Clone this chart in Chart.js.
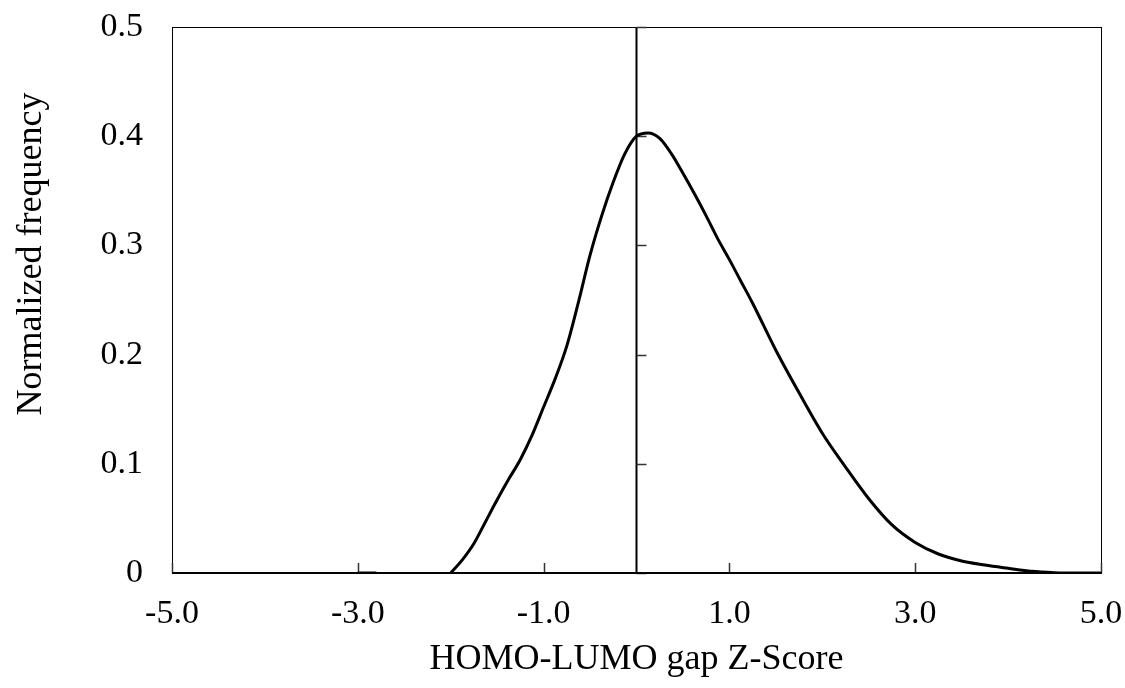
<!DOCTYPE html>
<html>
<head>
<meta charset="utf-8">
<script src="https://cdn.jsdelivr.net/npm/chart.js@4.4.0/dist/chart.umd.min.js"></script>
<style>
    html, body { margin: 0; padding: 0; background: #fff; }
    #wrap { width: 1125px; height: 688px; }
</style>
</head>
<body>
<div id="wrap"><canvas id="zscore-chart"></canvas></div>
<script>
// Distribuição normalizada do Z-score do gap HOMO-LUMO
const zScores = [-3.0, -2.8, -2.4, -2.0, -1.875, -1.75, -1.625, -1.5, -1.375, -1.25, -1.125, -1.0, -0.875, -0.75,
    -0.625, -0.5, -0.375, -0.25, -0.125, 0.0, 0.125, 0.25, 0.375, 0.5, 0.625, 0.75, 0.875, 1.0, 1.125, 1.25,
    1.5, 1.75, 2.0, 2.25, 2.5, 2.75, 3.0, 3.25, 3.5, 3.75, 4.0, 4.25, 4.5, 4.75, 5.0];
const frequencies = [0, 0, null, 0, 0.012, 0.027, 0.047, 0.067, 0.086, 0.104, 0.126, 0.152, 0.178, 0.208,
    0.248, 0.291, 0.327, 0.358, 0.384, 0.400, 0.403, 0.398, 0.384, 0.366, 0.347, 0.327, 0.306, 0.287, 0.267, 0.247,
    0.204, 0.165, 0.128, 0.097, 0.068, 0.044, 0.028, 0.0174, 0.011, 0.0073, 0.0043, 0.0015, 0.0003, 0, 0];

const xTickValues = [-5, -3, -1, 1, 3, 5];
const yTickValues = [0, 0.1, 0.2, 0.3, 0.4, 0.5];
const xTitle = 'HOMO-LUMO gap Z-Score';
const yTitle = 'Normalized frequency';

const FONT = '"Liberation Serif", "Times New Roman", serif';

// moldura, eixo vertical em x=0, marcas de escala e títulos dos eixos
const framePlugin = {
    id: 'frame',
    beforeDatasetsDraw(chart) {
        const { ctx, chartArea: a, scales } = chart;
        const x0 = scales.x.getPixelForValue(0);
        ctx.save();
        ctx.strokeStyle = '#000';
        ctx.lineWidth = 1;
        ctx.strokeRect(a.left + 0.5, a.top + 0.5, a.right - a.left, a.bottom - a.top);

        // linha vertical em z = 0
        ctx.lineWidth = 2;
        ctx.beginPath();
        ctx.moveTo(x0, a.top);
        ctx.lineTo(x0, a.bottom);
        ctx.stroke();

        // marcas do eixo y (para a direita)
        ctx.lineWidth = 1.5;
        ctx.strokeStyle = '#333';
        yTickValues.forEach(v => {
            const y = Math.round(scales.y.getPixelForValue(v)) + 0.5;
            ctx.beginPath();
            ctx.moveTo(x0, y);
            ctx.lineTo(x0 + 10, y);
            ctx.stroke();
        });

        // marcas do eixo x (para cima)
        xTickValues.forEach(v => {
            const x = Math.round(scales.x.getPixelForValue(v)) + 0.5;
            ctx.beginPath();
            ctx.moveTo(x, a.bottom);
            ctx.lineTo(x, a.bottom - 10);
            ctx.stroke();
        });

        // eixo x mais grosso
        ctx.strokeStyle = '#000';
        ctx.lineWidth = 2;
        ctx.beginPath();
        ctx.moveTo(a.left, a.bottom);
        ctx.lineTo(a.right + 1, a.bottom);
        ctx.stroke();
        ctx.restore();
    },
    afterDraw(chart) {
        const { ctx, chartArea: a } = chart;
        ctx.save();
        ctx.fillStyle = '#000';
        ctx.font = '36px ' + FONT;
        ctx.textAlign = 'center';
        ctx.textBaseline = 'middle';
        ctx.fillText(xTitle, (a.left + a.right) / 2, 660);
        ctx.translate(32, 254);
        ctx.rotate(-Math.PI / 2);
        ctx.fillText(yTitle, 0, 0);
        ctx.restore();
    }
};

// sem folga extra para os rótulos nas bordas
function noOverflow(scale) {
    scale.paddingTop = 0;
    scale.paddingBottom = 0;
    scale.paddingLeft = 0;
    scale.paddingRight = 0;
}

const ctx = document.getElementById('zscore-chart').getContext('2d');
new Chart(ctx, {
    type: 'line',
    data: {
        datasets: [{
            data: zScores.map((z, i) => ({ x: z, y: frequencies[i] })),
            borderColor: '#000',
            borderWidth: 3,
            pointRadius: 0,
            fill: false,
            cubicInterpolationMode: 'monotone',
            spanGaps: false
        }]
    },
    options: {
        responsive: true,
        maintainAspectRatio: false,
        animation: false,
        events: [],
        layout: { padding: { top: 27, right: 24, left: 0, bottom: 0 } },
        plugins: {
            legend: { display: false },
            tooltip: { enabled: false }
        },
        scales: {
            x: {
                type: 'linear',
                min: -5,
                max: 5,
                grid: { display: false, drawTicks: false },
                border: { display: false },
                afterFit(scale) { scale.height = 115; noOverflow(scale); },
                afterBuildTicks(scale) { scale.ticks = xTickValues.map(v => ({ value: v })); },
                ticks: {
                    color: '#000',
                    font: { family: FONT, size: 34 },
                    padding: 21,
                    maxRotation: 0,
                    callback: v => v.toFixed(1)
                }
            },
            y: {
                min: 0,
                max: 0.5,
                grid: { display: false, drawTicks: false },
                border: { display: false },
                afterFit(scale) { scale.width = 172; noOverflow(scale); },
                afterBuildTicks(scale) { scale.ticks = yTickValues.map(v => ({ value: v })); },
                ticks: {
                    color: '#000',
                    font: { family: FONT, size: 34 },
                    padding: 29,
                    callback: v => v === 0 ? '0' : v.toFixed(1)
                }
            }
        }
    },
    plugins: [framePlugin]
});
</script>
</body>
</html>
